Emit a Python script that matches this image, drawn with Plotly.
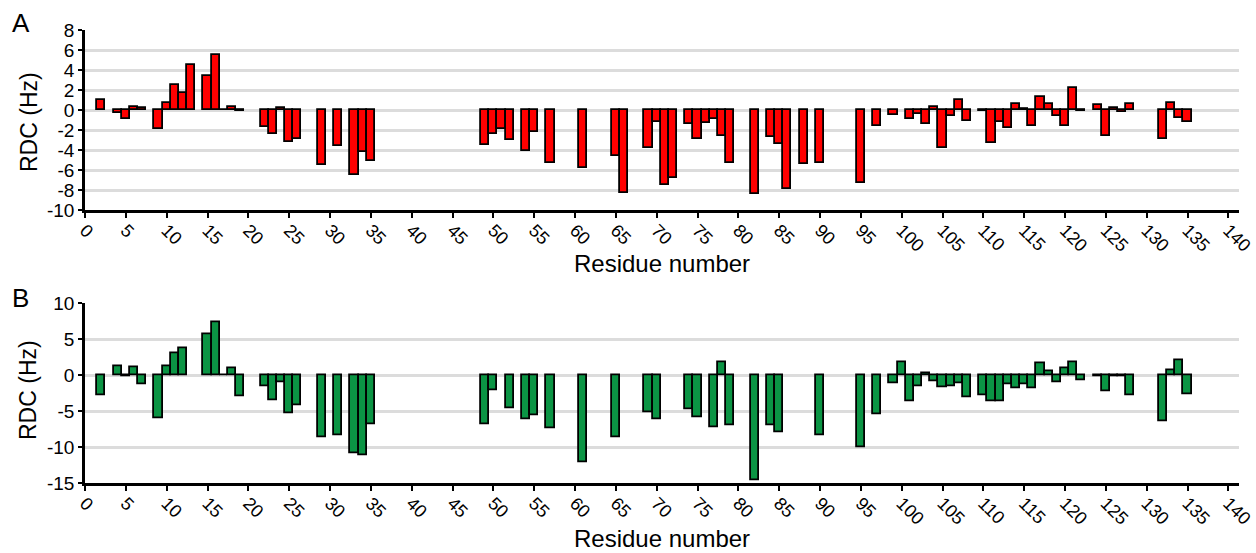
import plotly.graph_objects as go

residues_a = [2, 4, 5, 6, 7, 9, 10, 11, 12, 13, 15, 16, 17, 18, 19, 22, 23, 24, 25, 26,
              29, 31, 33, 34, 35, 49, 50, 51, 52, 54, 55, 57, 61, 65, 66, 69, 70, 71, 72,
              74, 75, 76, 77, 78, 79, 82, 84, 85, 86, 88, 90, 95, 97, 99, 101, 102, 103,
              104, 105, 106, 107, 108, 110, 111, 112, 113, 114, 115, 116, 117, 118, 119,
              120, 121, 122, 124, 125, 126, 127, 128, 132, 133, 134, 135]
rdc_a = [1.0, -0.3, -0.9, 0.3, 0.2, -1.9, 0.7, 2.5, 1.7, 4.5, 3.4, 5.5, 0.05, 0.3, -0.1,
         -1.7, -2.4, 0.2, -3.2, -2.9, -5.5, -3.6, -6.5, -4.2, -5.1, -3.5, -2.4, -1.9, -3.0,
         -4.1, -2.2, -5.3, -5.8, -4.6, -8.3, -3.8, -1.2, -7.5, -6.8, -1.4, -2.9, -1.3, -0.9,
         -2.6, -5.3, -8.4, -2.7, -3.4, -7.9, -5.4, -5.3, -7.3, -1.6, -0.5, -0.9, -0.4, -1.4,
         0.3, -3.8, -0.6, 1.0, -1.1, -0.1, -3.3, -1.2, -1.8, 0.6, 0.1, -1.6, 1.3, 0.6, -0.6,
         -1.6, 2.2, -0.1, 0.5, -2.6, 0.2, -0.2, 0.6, -2.9, 0.7, -0.8, -1.2]

residues_b = [2, 4, 5, 6, 7, 9, 10, 11, 12, 15, 16, 17, 18, 19, 22, 23, 24, 25, 26, 29, 31,
              33, 34, 35, 49, 50, 52, 54, 55, 57, 61, 65, 69, 70, 74, 75, 77, 78, 79, 82, 84,
              85, 90, 95, 97, 99, 100, 101, 102, 103, 104, 105, 106, 107, 108, 110, 111, 112,
              113, 114, 115, 116, 117, 118, 119, 120, 121, 122, 124, 125, 126, 127, 128, 132,
              133, 134, 135]
rdc_b = [-2.8, 1.2, -0.2, 1.1, -1.3, -6.0, 1.3, 3.1, 3.7, 5.7, 7.4, 0.05, 0.9, -2.9, -1.6,
         -3.5, -1.0, -5.3, -4.2, -8.6, -8.4, -10.9, -11.2, -6.8, -6.8, -2.1, -4.6, -6.2, -5.6,
         -7.4, -12.1, -8.6, -5.1, -6.1, -4.7, -5.8, -7.2, 1.8, -7.0, -14.6, -7.0, -8.0, -8.4,
         -10.0, -5.4, -1.1, 1.8, -3.6, -1.6, 0.3, -0.9, -1.7, -1.6, -1.1, -3.1, -2.8, -3.6,
         -3.6, -1.2, -1.8, -1.2, -1.8, 1.7, 0.5, -1.0, 0.9, 1.8, -0.7, -0.2, -2.3, -0.1, -0.2,
         -2.8, -6.4, 0.7, 2.1, -2.6]

x_ticks = list(range(0, 141, 5))
yticks_a = list(range(-10, 9, 2))
yticks_b = list(range(-15, 11, 5))

FONT = "Liberation Sans, Arial, sans-serif"

fig = go.Figure()
fig.add_trace(go.Bar(x=residues_a, y=rdc_a, width=1.0,
                     marker=dict(color="#ff0000", line=dict(color="black", width=1.8)),
                     xaxis="x", yaxis="y", showlegend=False))
fig.add_trace(go.Bar(x=residues_b, y=rdc_b, width=1.0,
                     marker=dict(color="#0b9444", line=dict(color="black", width=1.8)),
                     xaxis="x2", yaxis="y2", showlegend=False))

xcommon = dict(range=[0, 141.3], tickmode="array", tickvals=x_ticks, ticktext=[str(t) for t in x_ticks],
               tickangle=45, ticks="outside", ticklen=5, tickwidth=2, tickcolor="black",
               ticklabeloverflow="allow", ticklabelstandoff=-5, automargin=False,
               showline=True, linecolor="black", linewidth=2.5, showgrid=False, zeroline=False,
               tickfont=dict(family=FONT, size=18, color="black"))
ycommon = dict(ticks="outside", ticklen=4, tickwidth=2, tickcolor="black", showline=True,
               linecolor="black", linewidth=2.5, showgrid=True, gridcolor="#dcdcdc", gridwidth=2.5,
               zeroline=False, automargin=False, tickfont=dict(family=FONT, size=19, color="black"))

ya = (483 - 210) / 453
yb = (483 - 303.3) / 453

fig.update_layout(
    width=1256, height=553,
    margin=dict(l=85, r=17, t=30, b=70),
    plot_bgcolor="white", paper_bgcolor="white",
    bargap=0,
    xaxis=dict(domain=[0, 1], anchor="y", **xcommon),
    yaxis=dict(domain=[ya, 1], anchor="x", range=[-10, 8], tickmode="array", tickvals=yticks_a,
               ticktext=[str(v) for v in yticks_a], **ycommon),
    xaxis2=dict(domain=[0, 1], anchor="y2", **xcommon),
    yaxis2=dict(domain=[0, yb], anchor="x2", range=[-15, 10], tickmode="array", tickvals=yticks_b,
                ticktext=[str(v) for v in yticks_b], **ycommon),
    font=dict(family=FONT, color="black"),
)

def ann(text, x, y, size, angle=0):
    fig.add_annotation(text=text, x=x, y=y, xref="paper", yref="paper", showarrow=False,
                       font=dict(family=FONT, size=size, color="black"), textangle=angle,
                       xanchor="center", yanchor="middle")

W = 1154.0
H = 453.0
def px(xp):
    return (xp - 85) / W
def py(yp):
    return (483 - yp) / H

ann("A", px(21), py(23), 26)
ann("B", px(20), py(298), 26)
ann("RDC (Hz)", px(29), py(122), 23, -90)
ann("RDC (Hz)", px(28), py(390), 23, -90)
ann("Residue number", px(662), py(263), 24)
ann("Residue number", px(662), py(538), 24)

fig.write_html("out.html")
